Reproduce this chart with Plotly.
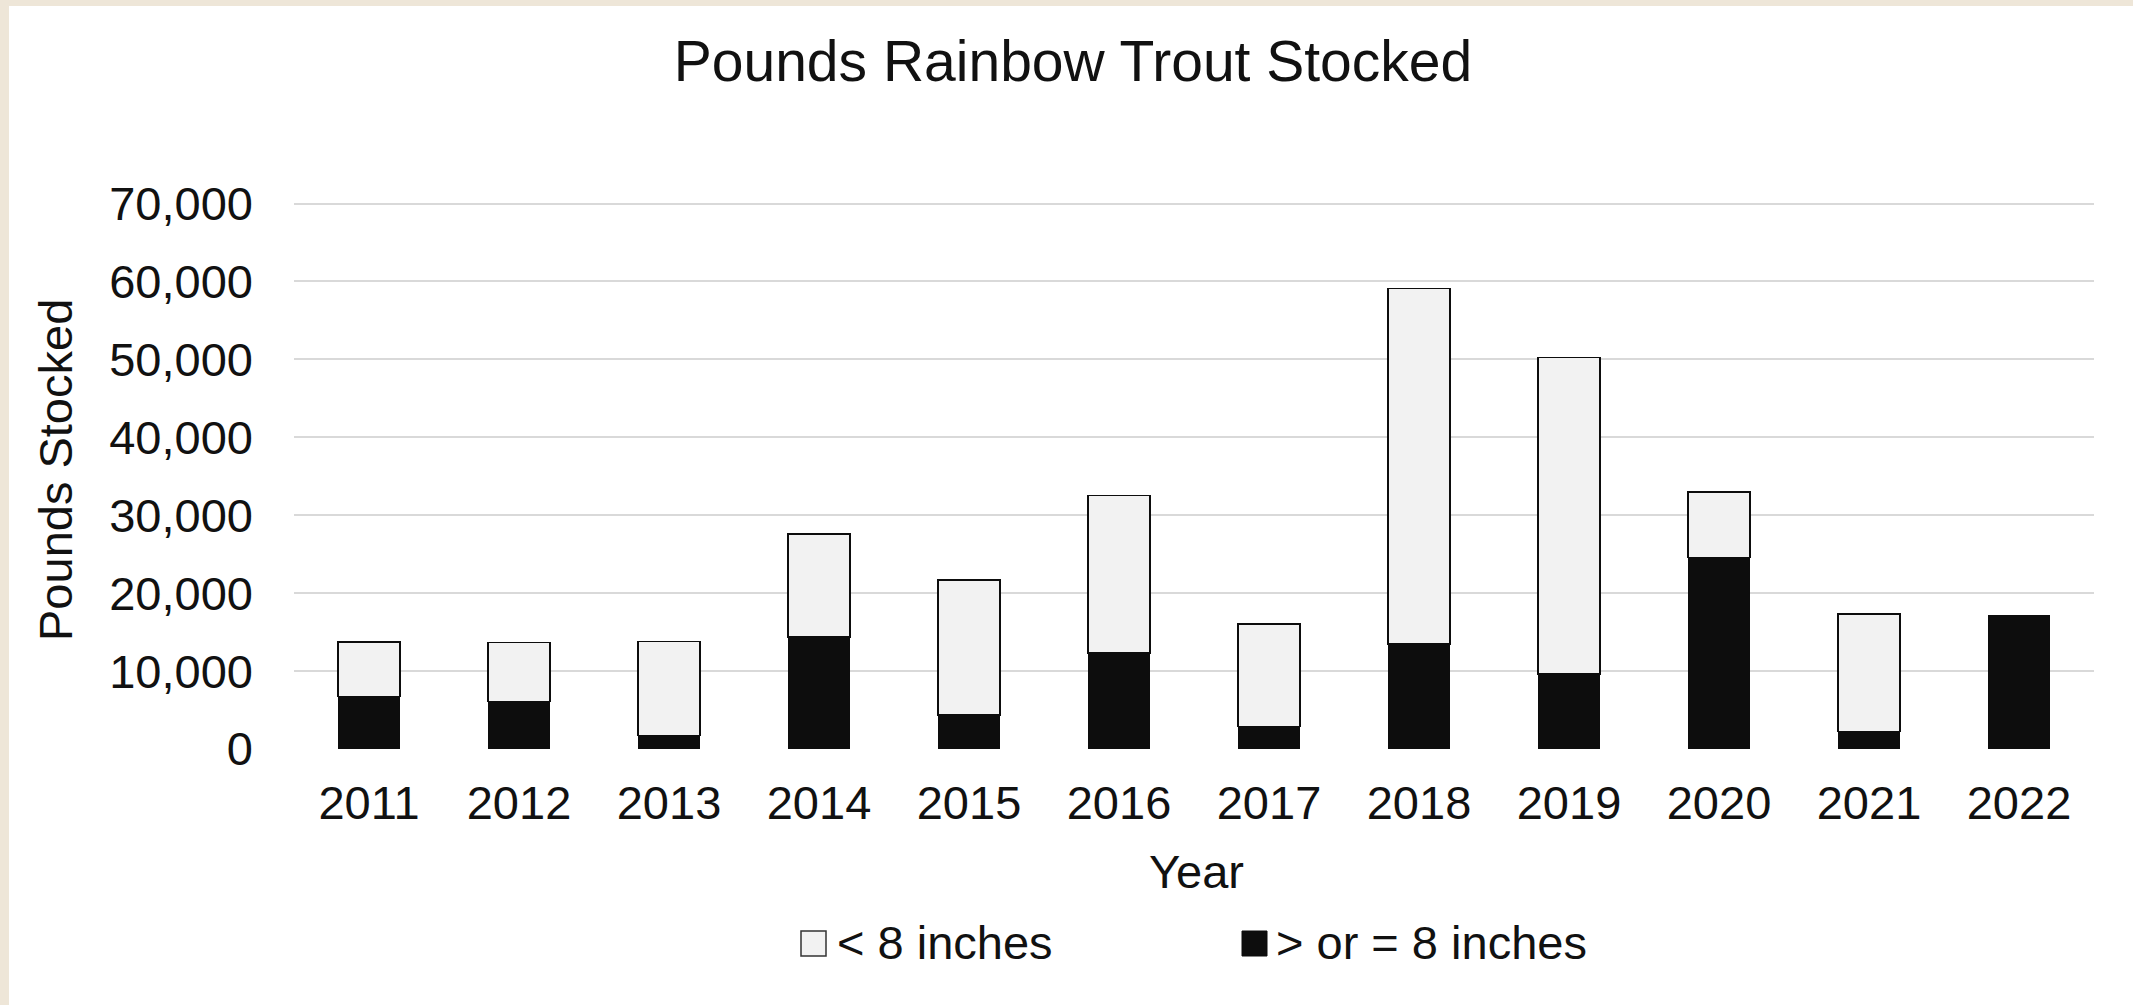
import plotly.graph_objects as go

years = ["2011", "2012", "2013", "2014", "2015", "2016", "2017", "2018", "2019", "2020", "2021", "2022"]
large_lbs = [6760, 6080, 1710, 14390, 4370, 12330, 2900, 13490, 9630, 24570, 2260, 17080]   # > or = 8 inches
small_lbs = [6980, 7610, 12070, 13180, 17340, 20210, 13150, 45640, 40590, 8440, 15080, 0]    # < 8 inches
y_ticks = [0, 10000, 20000, 30000, 40000, 50000, 60000, 70000]

title_text = "Pounds Rainbow Trout Stocked"
small_name = "< 8 inches"
large_name = "> or = 8 inches"

W, H = 2133, 1005
L, R, T, B = 294, 2094, 202, 749
Y_MAX = 70200
FONT = "Liberation Sans, Arial, sans-serif"
INK = "#111111"
DARK = "#0D0D0D"
LIGHT = "#F2F2F2"
BEIGE = "#EEE6D8"


def px_x(px):
    return (px - L) / (R - L)


def px_y(py):
    return (B - py) / (B - T)


fig = go.Figure()
fig.add_trace(go.Bar(x=years, y=large_lbs, name=large_name,
                     marker=dict(color=DARK, line=dict(color=DARK, width=1)),
                     showlegend=False))
fig.add_trace(go.Bar(x=years, y=small_lbs, name=small_name,
                     marker=dict(color=LIGHT, line=dict(color=DARK, width=1.5)),
                     showlegend=False))

shapes = [
    # beige page edges (left and top)
    dict(type="rect", xref="paper", yref="paper", layer="below",
         x0=px_x(-20), x1=px_x(9), y0=px_y(1020), y1=px_y(-20),
         fillcolor=BEIGE, line=dict(width=0)),
    dict(type="rect", xref="paper", yref="paper", layer="below",
         x0=px_x(-20), x1=px_x(2150), y0=px_y(6), y1=px_y(-20),
         fillcolor=BEIGE, line=dict(width=0)),
    # legend swatches
    dict(type="rect", xref="paper", yref="paper",
         x0=px_x(801), x1=px_x(826), y0=px_y(956), y1=px_y(931),
         fillcolor=LIGHT, line=dict(color="#333333", width=1.5)),
    dict(type="rect", xref="paper", yref="paper",
         x0=px_x(1242), x1=px_x(1267), y0=px_y(956), y1=px_y(931),
         fillcolor=DARK, line=dict(color=DARK, width=1)),
]

annotations = [
    dict(text="Pounds Stocked", textangle=-90, xref="paper", yref="paper",
         x=px_x(55), y=px_y(470), xanchor="center", yanchor="middle",
         showarrow=False, font=dict(size=47, color=INK, family=FONT)),
    dict(text="Year", xref="paper", yref="paper",
         x=px_x(1196), y=px_y(871), xanchor="center", yanchor="middle",
         showarrow=False, font=dict(size=47, color=INK, family=FONT)),
    dict(text=small_name, xref="paper", yref="paper",
         x=px_x(835), y=px_y(942), xanchor="left", yanchor="middle",
         showarrow=False, font=dict(size=47, color=INK, family=FONT)),
    dict(text=large_name, xref="paper", yref="paper",
         x=px_x(1274), y=px_y(942), xanchor="left", yanchor="middle",
         showarrow=False, font=dict(size=47, color=INK, family=FONT)),
]

fig.update_layout(
    width=W, height=H,
    margin=dict(l=L, r=W - R, t=T, b=H - B, pad=0),
    paper_bgcolor="white", plot_bgcolor="white",
    barmode="stack", bargap=0.587,
    font=dict(family=FONT, color=INK, size=47),
    title=dict(text=title_text, x=1073 / W, xanchor="center", xref="container",
               y=1 - 61 / H, yanchor="middle", yref="container",
               font=dict(size=57, color=INK, family=FONT)),
    xaxis=dict(type="category", showgrid=False, showline=False, zeroline=False,
               ticks="", tickfont=dict(size=47), ticklabelstandoff=22),
    yaxis=dict(range=[0, Y_MAX], tickvals=y_ticks, tickformat=",",
               showgrid=True, gridcolor="#D9D9D9", gridwidth=1.5,
               zeroline=False, showline=False, ticks="",
               tickfont=dict(size=47), ticklabelstandoff=40),
    shapes=shapes, annotations=annotations, hovermode=False,
)

fig.write_html("out.html", config={"displayModeBar": False},
               post_script="document.body.style.margin='0';document.body.style.overflow='hidden';")
